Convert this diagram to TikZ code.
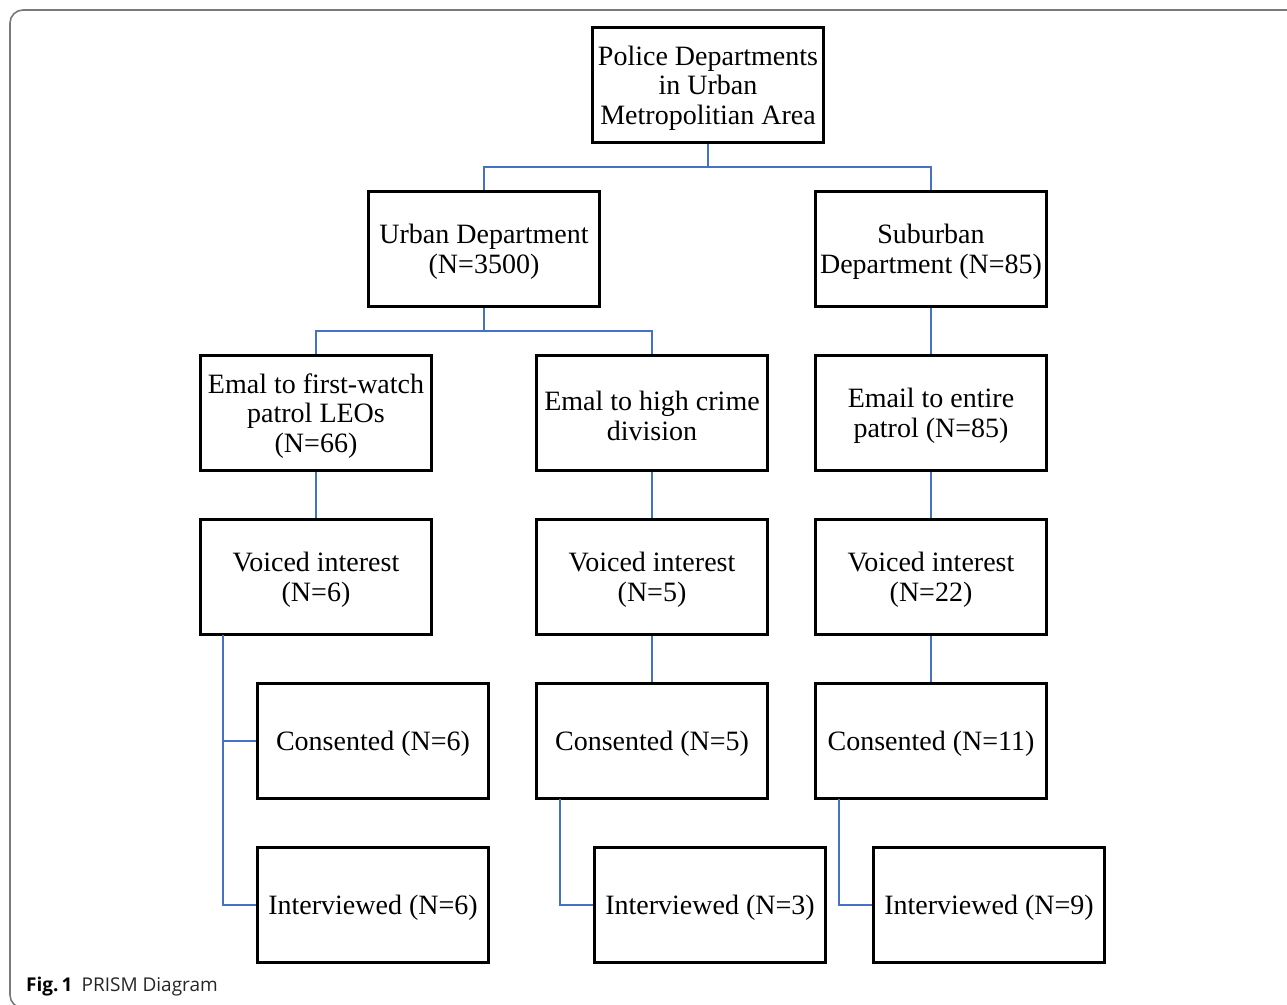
\documentclass[tikz,border=0pt]{standalone}
\usepackage{fontspec}
\setmainfont{Liberation Serif}
\newfontfamily\capfont{Open Sans}
\usetikzlibrary{calc}
\definecolor{lineblue}{HTML}{4472C4}
\definecolor{framegray}{HTML}{7A7A7A}
\begin{document}
\begin{tikzpicture}[x=1pt,y=-1pt,
  box/.style={draw=black,line width=2.2pt,minimum width=231pt,minimum height=115pt,inner sep=0pt,
    label={[txt]center:#1}},
  txt/.style={inner sep=0pt,align=center,yshift=-3pt,font=\fontsize{28}{29.5}\selectfont},
  conn/.style={draw=lineblue,line width=2.4pt}]
\useasboundingbox (0,0) rectangle (1287,1004);
% outer frame
\draw[framegray,line width=1.6pt,rounded corners=13pt] (1300,10) -- (10,10) -- (10,1008) -- (1300,1008);
% nodes
\node[box={Police Departments\\in Urban\\Metropolitian Area}] (top) at (708,85) {};
\node[box={Urban Department\\(N=3500)}] (urb) at (484,249) {};
\node[box={Suburban\\Department (N=85)}] (sub) at (931,249) {};
\node[box={Emal to first-watch\\patrol LEOs\\(N=66)}] (e1) at (316,413) {};
\node[box={Emal to high crime\\division}] (e2) at (652,413) {};
\node[box={Email to entire\\patrol (N=85)}] (e3) at (931,413) {};
\node[box={Voiced interest\\(N=6)}] (v1) at (316,577) {};
\node[box={Voiced interest\\(N=5)}] (v2) at (652,577) {};
\node[box={Voiced interest\\(N=22)}] (v3) at (931,577) {};
\node[box={Consented (N=6)}] (c1) at (373,741) {};
\node[box={Consented (N=5)}] (c2) at (652,741) {};
\node[box={Consented (N=11)}] (c3) at (931,741) {};
\node[box={Interviewed (N=6)}] (i1) at (373,905) {};
\node[box={Interviewed (N=3)}] (i2) at (710,905) {};
\node[box={Interviewed (N=9)}] (i3) at (989,905) {};
% connectors
\coordinate (j1) at (708,167);
\coordinate (j2) at (484,331);
\coordinate (l1) at (223,635);
\coordinate (l2) at (560,799);
\coordinate (l3) at (839,799);
\draw[conn] (top.south) -- (j1) -| (urb.north);
\draw[conn] (j1) -| (sub.north);
\draw[conn] (urb.south) -- (j2) -| (e1.north);
\draw[conn] (j2) -| (e2.north);
\draw[conn] (sub.south) -- (e3.north);
\draw[conn] (e1.south) -- (v1.north);
\draw[conn] (e2.south) -- (v2.north);
\draw[conn] (e3.south) -- (v3.north);
\draw[conn] (v2.south) -- (c2.north);
\draw[conn] (v3.south) -- (c3.north);
\draw[conn] (l1) |- (c1.west);
\draw[conn] (l1) |- (i1.west);
\draw[conn] (l2) |- (i2.west);
\draw[conn] (l3) |- (i3.west);
% caption
\node[anchor=base west,inner sep=0pt,font=\capfont\fontsize{19}{22}\selectfont] (cap) at (26,991) {\textbf{Fig.\,1}\hspace{9pt}{\color{black!85}PRISM Diagram}};
\end{tikzpicture}
\end{document}
